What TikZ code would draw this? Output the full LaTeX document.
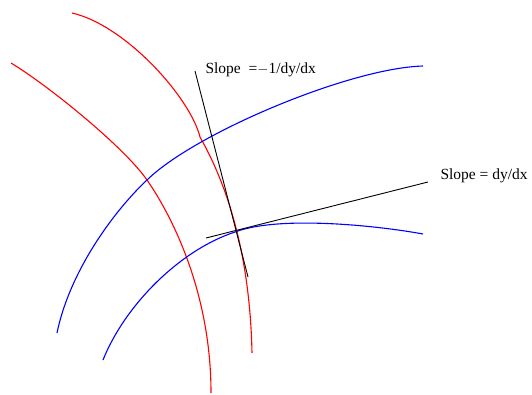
\documentclass[tikz,border=0pt]{standalone}
\usepackage{fontspec}
\setmainfont{Liberation Serif}
\begin{document}
\begin{tikzpicture}[x=1pt,y=-1pt,line width=1pt]
	\tikzset{redcurve/.style={red,line width=1.1pt},bluecurve/.style={blue,line width=1.1pt},
		slopeline/.style={black,line width=0.9pt},slopelabel/.style={anchor=west,inner sep=0pt,font=\fontsize{15.5}{17}\selectfont}}
	\useasboundingbox (0,0) rectangle (532,394);
	\draw[redcurve] (11,63) .. controls (49,86) and (124,147) .. (147,180) .. controls (170,213) and (211,290) .. (211,393);
	\draw[redcurve] (72,13) .. controls (125,25) and (190,97) .. (200,137) .. controls (230,190) and (250,260) .. (252,353);
	\draw[bluecurve] (57,333) .. controls (70,270) and (115,210) .. (147,180) .. controls (195,133) and (350,68) .. (423,66);
	\draw[bluecurve] (103,360) .. controls (125,305) and (180,250) .. (235,232) .. controls (280,215) and (380,226) .. (423,234);
	\draw[slopeline] (195,71) -- (248,277);
	\draw[slopeline] (206,238) -- (428,182);
	\node[slopelabel] (normal) at (205,70) {Slope\ \ =$-$1/dy/dx};
	\node[slopelabel] (tangent) at (440,176) {Slope = dy/dx};
\end{tikzpicture}
\end{document}
